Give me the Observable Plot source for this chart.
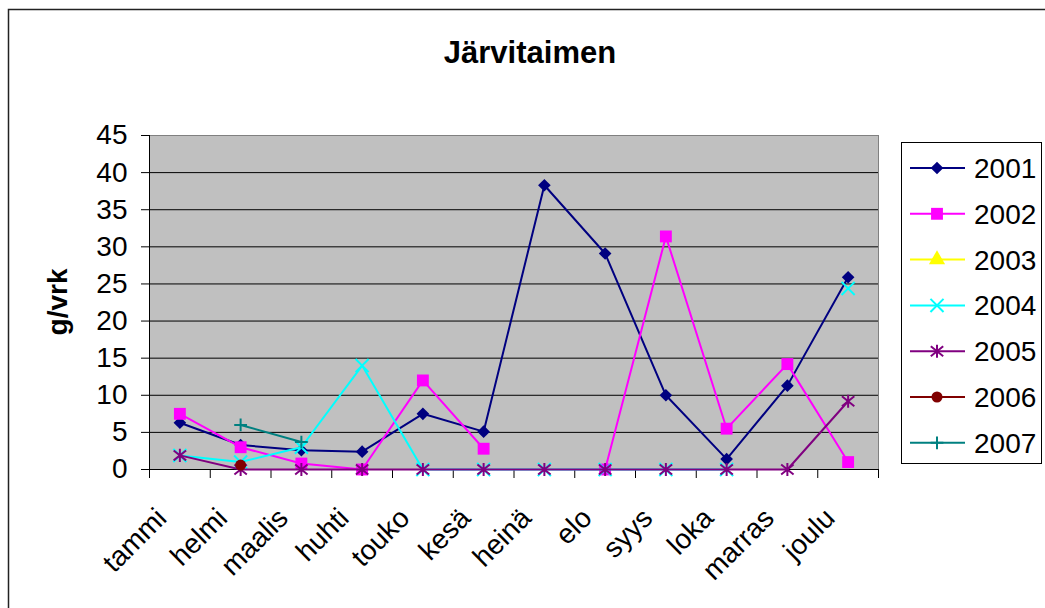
<!DOCTYPE html>
<html><head><meta charset="utf-8">
<script src="https://cdn.jsdelivr.net/npm/d3@7"></script>
<script src="https://cdn.jsdelivr.net/npm/@observablehq/plot@0.6"></script>
<style>
body{margin:0;background:#fff;}
#wrap{position:relative;width:1045px;height:608px;overflow:hidden;font-family:"Liberation Sans",Arial,sans-serif;}
#wrap > svg{position:absolute;left:0;top:0;}
</style></head><body><div id="wrap"></div>
<script>
// ---- data ----
const title = "Järvitaimen";
const yLabel = "g/vrk";
const months = ["tammi","helmi","maalis","huhti","touko","kesä","heinä","elo","syys","loka","marras","joulu"];
const years = ["2001","2002","2003","2004","2005","2006","2007"];
const s2001 = [6.3, 3.3, 2.6, 2.4, 7.5, 5.1, 38.3, 29.1, 10.0, 1.4, 11.3, 25.9];
const s2002 = [7.5, 3.0, 0.8, 0, 12.0, 2.8, null, 0, 31.4, 5.5, 14.2, 1.0];
const s2003 = [null, null, null, null, null, null, null, null, null, null, null, null];
const s2004 = [1.9, 1.0, 3.0, 14.0, 0, 0, 0, 0, 0, 0, null, 24.4];
const s2005 = [1.9, 0, 0, 0, 0, 0, 0, 0, 0, 0, 0, 9.2];
const s2006 = [null, 0.6, null, null, null, null, null, null, null, null, null, null];
const s2007 = [null, 6.0, 3.7, null, null, null, null, null, null, null, null, null];
const yTicks = [0, 5, 10, 15, 20, 25, 30, 35, 40, 45];

// ---- styles ----
const series = [s2001, s2002, s2003, s2004, s2005, s2006, s2007];
const colors = ["#000080", "#ff00ff", "#ffff00", "#00ffff", "#800080", "#800000", "#008080"];
const excelStar = {
  draw(ctx, size) {
    const r = Math.sqrt(size) * 0.67, d = r * 0.95;
    ctx.moveTo(0, -r); ctx.lineTo(0, r);
    ctx.moveTo(-d, -d * 0.8); ctx.lineTo(d, d * 0.8);
    ctx.moveTo(-d, d * 0.8); ctx.lineTo(d, -d * 0.8);
  }
};
const symbols = ["diamond2", "square", "triangle", "times", excelStar, "circle", "plus"];
const radii = [5.7, 6.7, 6, 6, 5.5, 5.5, 4.2];
const filled = [true, true, true, false, false, true, false];
const FONT = '"Liberation Sans", Arial, sans-serif';

const marks = [
  Plot.frame({fill: "#c0c0c0", stroke: "#808080"}),
  Plot.gridY({ticks: yTicks.filter(t => t > 0 && t < 45), stroke: "#000", strokeOpacity: 1, strokeWidth: 1}),
  Plot.ruleX([0], {stroke: "#000"}),
  Plot.ruleY([0], {stroke: "#000"}),
  Plot.axisY({ticks: yTicks, tickSize: 8, tickPadding: 14, fontSize: 28, label: null, stroke: "#000"}),
  Plot.axisX({ticks: d3.range(months.length + 1), tickFormat: () => "", tickSize: 9, label: null}),
  Plot.axisX({ticks: months.map((m, i) => i + 0.5), tickFormat: d => months[Math.round(d - 0.5)],
              tickSize: 0, tickPadding: 44, tickRotate: -45, fontSize: 28, label: null, dx: -18})
];

series.forEach((vals, k) => {
  const pts = months.map((m, i) => ({x: i + 0.5, y: vals[i] == null ? NaN : vals[i]}));
  const defined = pts.filter(p => !isNaN(p.y));
  if (!defined.length) return;
  marks.push(Plot.line(pts, {x: "x", y: "y", stroke: colors[k], strokeWidth: 2}));
  marks.push(Plot.dot(defined, filled[k]
    ? {x: "x", y: "y", symbol: symbols[k], r: radii[k], fill: colors[k], stroke: "none"}
    : {x: "x", y: "y", symbol: symbols[k], r: radii[k], fill: "none", stroke: colors[k], strokeWidth: 2}));
});

const chart = Plot.plot({
  width: 1045, height: 608,
  marginLeft: 149, marginRight: 167, marginTop: 135, marginBottom: 139,
  x: {domain: [0, months.length]},
  y: {domain: [0, 45]},
  style: {fontFamily: FONT, fontSize: "28px", color: "#000", background: "transparent", overflow: "visible"},
  marks
});
const wrap = document.getElementById("wrap");
wrap.appendChild(chart);

// ---- overlay: frame, title, y label, legend ----
const ov = d3.select(wrap).append("svg").attr("width", 1045).attr("height", 608)
  .style("font-family", FONT);
ov.append("path").attr("d", "M8.5,1045 V9.5 H1045").attr("fill", "none").attr("stroke", "#222").attr("stroke-width", 1.5);
ov.append("text").attr("x", 530).attr("y", 63).attr("text-anchor", "middle")
  .attr("font-size", 31).attr("font-weight", "bold").text(title);
ov.append("text").attr("transform", "translate(67,302) rotate(-90)").attr("text-anchor", "middle")
  .attr("font-size", 28).attr("font-weight", "bold").text(yLabel);

const lg = ov.append("g").attr("transform", "translate(901,142)");
lg.append("rect").attr("x", 0.5).attr("y", 0.5).attr("width", 140).attr("height", 321)
  .attr("fill", "#fff").attr("stroke", "#000");
years.forEach((yr, k) => {
  const cy = 26 + k * 45.8;
  const row = lg.append("g").attr("transform", `translate(0,${cy})`);
  row.append("line").attr("x1", 9).attr("x2", 64).attr("y1", 0).attr("y2", 0)
    .attr("stroke", colors[k]).attr("stroke-width", 2);
  const symType = symbols[k] === "diamond2" ? d3.symbolDiamond2 : symbols[k] === "square" ? d3.symbolSquare :
    symbols[k] === "triangle" ? d3.symbolTriangle : symbols[k] === "times" ? d3.symbolTimes :
    symbols[k] === "circle" ? d3.symbolCircle : symbols[k] === "plus" ? d3.symbolPlus : excelStar;
  const p = row.append("path").attr("transform", "translate(36,0)")
    .attr("d", d3.symbol(symType, Math.PI * radii[k] * radii[k])());
  if (filled[k]) p.attr("fill", colors[k]);
  else p.attr("fill", "none").attr("stroke", colors[k]).attr("stroke-width", 2);
  row.append("text").attr("x", 73).attr("y", 0).attr("dy", "0.36em").attr("font-size", 28).text(yr);
});
</script></body></html>
